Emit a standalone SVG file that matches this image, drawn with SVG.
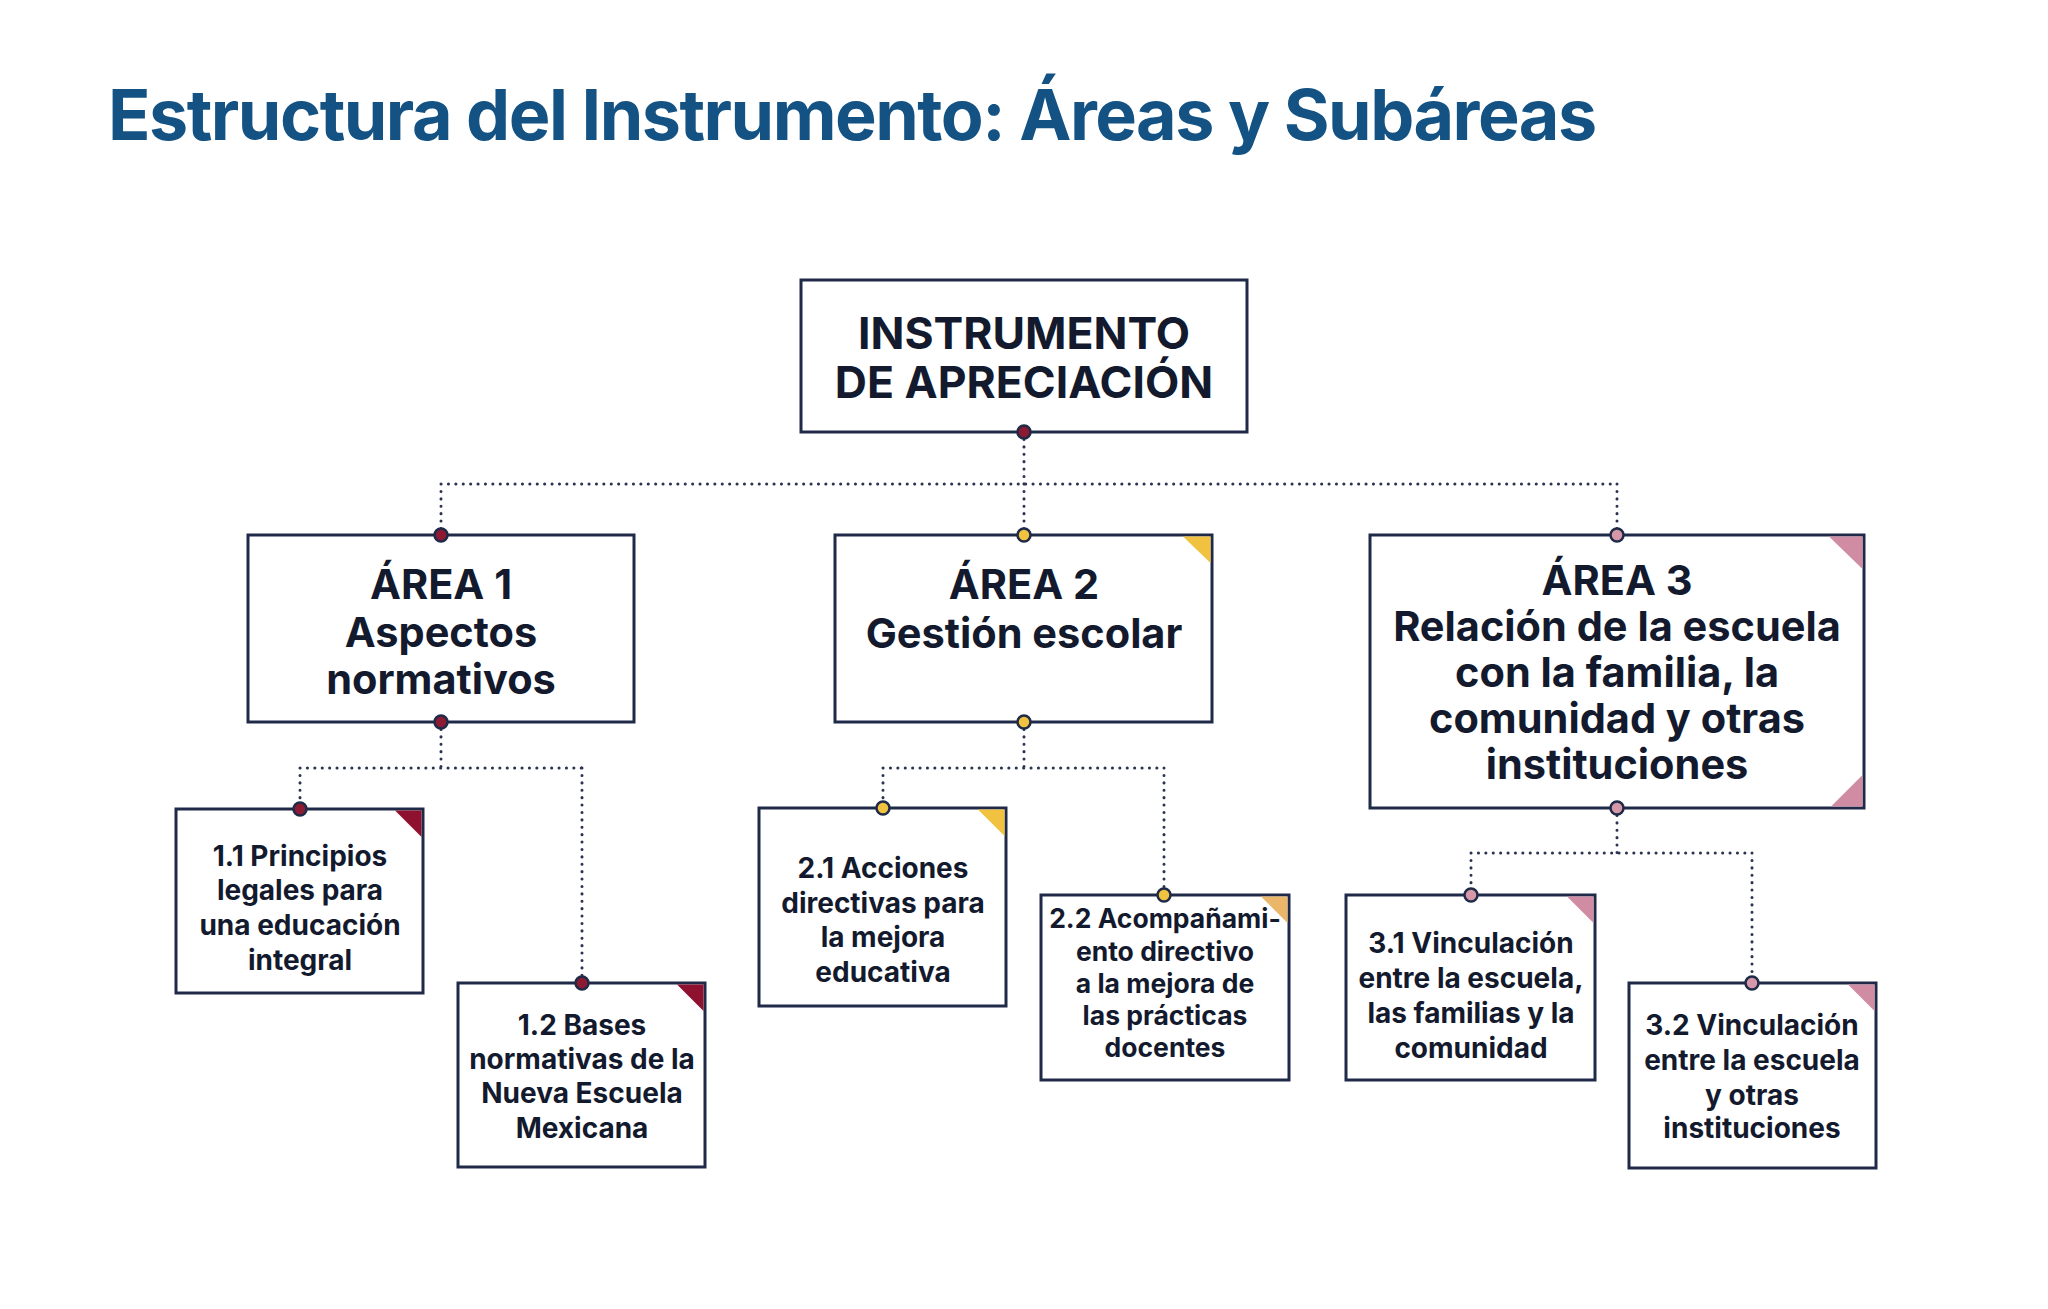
<svg xmlns="http://www.w3.org/2000/svg" width="2048" height="1309" viewBox="0 0 2048 1309">
<style>
.box{fill:#ffffff;stroke:#1f2a48;stroke-width:3}
.t{font-family:Inter,"Noto Sans","Liberation Sans",sans-serif;font-weight:700;fill:#141a2e;text-anchor:middle}
.root{font-size:44.5px}
.area{font-size:41.5px}
.sub{font-size:28px}
.sub2{font-size:26.5px}
.title{font-family:Inter,"Noto Sans","Liberation Sans",sans-serif;font-weight:700;font-size:70px;letter-spacing:-1.5px;fill:#135283}
.conn{fill:none;stroke:#2a3352;stroke-width:3;stroke-dasharray:0.1 7.3;stroke-linecap:round}
.dr{fill:#8b1a32;stroke:#1f2a48;stroke-width:2.5}
.dy{fill:#f0c23f;stroke:#1f2a48;stroke-width:2.5}
.dp{fill:#d598a8;stroke:#1f2a48;stroke-width:2.5}
.cr{fill:#8e1230}
.cy{fill:#f0c23f}
.co{fill:#e9b66a}
.cp{fill:#d08ca3}
</style>
<rect width="2048" height="1309" fill="#ffffff"/>
<text class="title" x="108" y="140">Estructura del Instrumento: Áreas y Subáreas</text>

<g id="connectors">
<path class="conn" d="M1024 432 V484 M441 484 H1617 M441 484 V535 M1024 484 V535 M1617 484 V535"/>
<path class="conn" d="M441 722 V768 M300 768 H582 M300 768 V809 M582 768 V983"/>
<path class="conn" d="M1024 722 V768 M883 768 H1164 M883 768 V808 M1164 768 V895"/>
<path class="conn" d="M1617 808 V853 M1471 853 H1752 M1471 853 V895 M1752 853 V983"/>
</g>

<g id="root">
<rect class="box" x="801" y="280" width="446" height="152"/>
<text class="t root" x="1024" y="349">INSTRUMENTO</text>
<text class="t root" x="1024" y="398">DE APRECIACIÓN</text>
<circle class="dr" cx="1024" cy="432" r="6.5"/>
</g>

<g id="area1">
<rect class="box" x="248" y="535" width="386" height="187"/>
<text class="t area" x="441" y="599">ÁREA 1</text>
<text class="t area" x="441" y="647">Aspectos</text>
<text class="t area" x="441" y="694">normativos</text>
<circle class="dr" cx="441" cy="535" r="6.5"/>
<circle class="dr" cx="441" cy="722" r="6.5"/>
</g>

<g id="area2">
<rect class="box" x="835" y="535" width="377" height="187"/>
<polygon class="cy" points="1183,536.5 1210.5,536.5 1210.5,563"/>
<text class="t area" x="1024" y="599">ÁREA 2</text>
<text class="t area" x="1024" y="648">Gestión escolar</text>
<circle class="dy" cx="1024" cy="535" r="6.5"/>
<circle class="dy" cx="1024" cy="722" r="6.5"/>
</g>

<g id="area3">
<rect class="box" x="1370" y="535" width="494" height="273"/>
<polygon class="cp" points="1829,536.5 1862.5,536.5 1862.5,569"/>
<polygon class="cp" points="1862.5,775 1862.5,806.5 1831,806.5"/>
<text class="t area" x="1617" y="595">ÁREA 3</text>
<text class="t area" x="1617" y="641">Relación de la escuela</text>
<text class="t area" x="1617" y="687">con la familia, la</text>
<text class="t area" x="1617" y="733">comunidad y otras</text>
<text class="t area" x="1617" y="779">instituciones</text>
<circle class="dp" cx="1617" cy="535" r="6.5"/>
<circle class="dp" cx="1617" cy="808" r="6.5"/>
</g>

<g id="sub11">
<rect class="box" x="176" y="809" width="247" height="184"/>
<polygon class="cr" points="395,810.5 421.5,810.5 421.5,837"/>
<text class="t sub" x="300" y="866">1.1 Principios</text>
<text class="t sub" x="300" y="900">legales para</text>
<text class="t sub" x="300" y="935">una educación</text>
<text class="t sub" x="300" y="970">integral</text>
<circle class="dr" cx="300" cy="809" r="6.5"/>
</g>

<g id="sub12">
<rect class="box" x="458" y="983" width="247" height="184"/>
<polygon class="cr" points="677,984.5 703.5,984.5 703.5,1011"/>
<text class="t sub" x="582" y="1035">1.2 Bases</text>
<text class="t sub" x="582" y="1069">normativas de la</text>
<text class="t sub" x="582" y="1103">Nueva Escuela</text>
<text class="t sub" x="582" y="1138">Mexicana</text>
<circle class="dr" cx="582" cy="983" r="6.5"/>
</g>

<g id="sub21">
<rect class="box" x="759" y="808" width="247" height="198"/>
<polygon class="cy" points="978,809.5 1004.5,809.5 1004.5,836"/>
<text class="t sub" x="883" y="878">2.1 Acciones</text>
<text class="t sub" x="883" y="913">directivas para</text>
<text class="t sub" x="883" y="947">la mejora</text>
<text class="t sub" x="883" y="982">educativa</text>
<circle class="dy" cx="883" cy="808" r="6.5"/>
</g>

<g id="sub22">
<rect class="box" x="1041" y="895" width="248" height="185"/>
<polygon class="co" points="1261,896.5 1287.5,896.5 1287.5,923"/>
<text class="t sub2" x="1165" y="928">2.2 Acompañami-</text>
<text class="t sub2" x="1165" y="961">ento directivo</text>
<text class="t sub2" x="1165" y="993">a la mejora de</text>
<text class="t sub2" x="1165" y="1025">las prácticas</text>
<text class="t sub2" x="1165" y="1057">docentes</text>
<circle class="dy" cx="1164" cy="895" r="6.5"/>
</g>

<g id="sub31">
<rect class="box" x="1346" y="895" width="249" height="185"/>
<polygon class="cp" points="1567,896.5 1593.5,896.5 1593.5,923"/>
<text class="t sub" x="1471" y="953">3.1 Vinculación</text>
<text class="t sub" x="1471" y="988">entre la escuela,</text>
<text class="t sub" x="1471" y="1023">las familias y la</text>
<text class="t sub" x="1471" y="1058">comunidad</text>
<circle class="dp" cx="1471" cy="895" r="6.5"/>
</g>

<g id="sub32">
<rect class="box" x="1629" y="983" width="247" height="185"/>
<polygon class="cp" points="1848,984.5 1874.5,984.5 1874.5,1011"/>
<text class="t sub" x="1752" y="1035">3.2 Vinculación</text>
<text class="t sub" x="1752" y="1070">entre la escuela</text>
<text class="t sub" x="1752" y="1105">y otras</text>
<text class="t sub" x="1752" y="1138">instituciones</text>
<circle class="dp" cx="1752" cy="983" r="6.5"/>
</g>
</svg>
